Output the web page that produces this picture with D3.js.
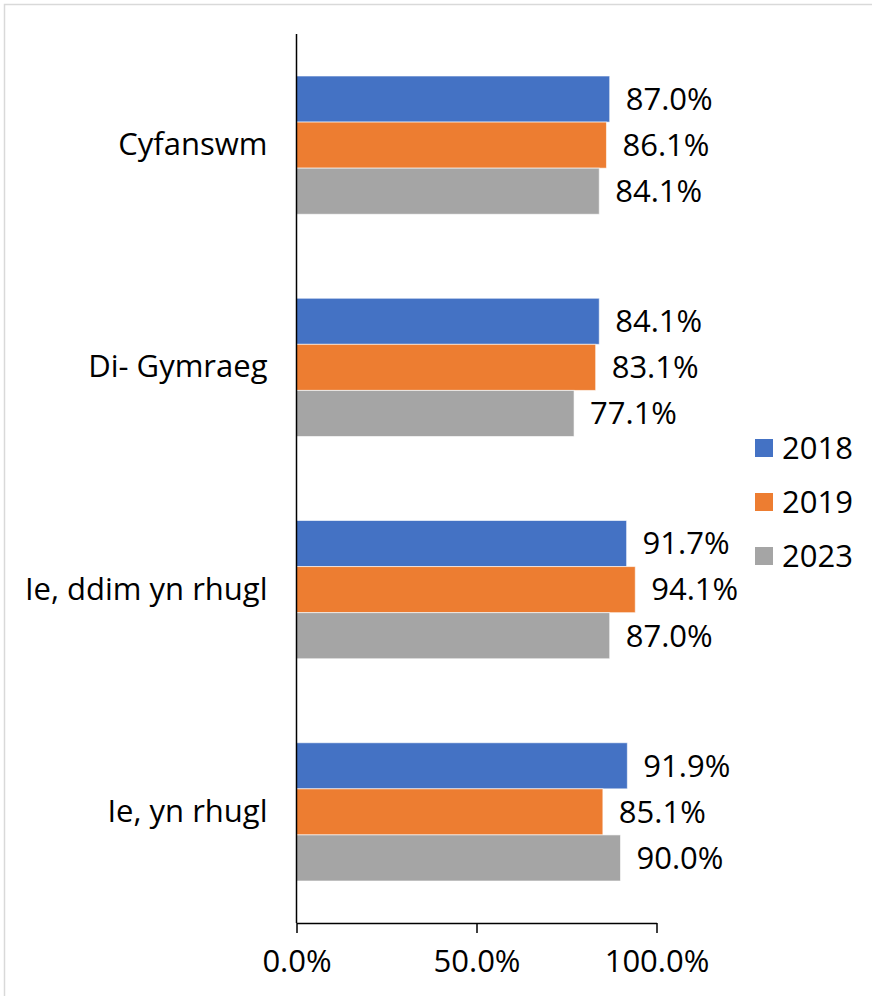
<!DOCTYPE html>
<html><head><meta charset="utf-8">
<script src="https://cdn.jsdelivr.net/npm/d3@7"></script>
<style>body{margin:0;background:#fff}svg{display:block}text{font-family:"Open Sans",Lato,sans-serif;fill:#000}</style>
</head><body><svg id="c" width="872" height="996"></svg>
<script>
const categories = ["Cyfanswm", "Di- Gymraeg", "Ie, ddim yn rhugl", "Ie, yn rhugl"];
const seriesNames = ["2018", "2019", "2023"];
const values2018 = [87.0, 84.1, 91.7, 91.9];
const values2019 = [86.1, 83.1, 94.1, 85.1];
const values2023 = [84.1, 77.1, 87.0, 90.0];
const xTicks = [0, 50, 100];
const colors = ["#4472C4", "#ED7D31", "#A5A5A5"];

const seriesValues = [values2018, values2019, values2023];
const svg = d3.select("#c");
const fs = 31;
const ff = "'Open Sans',Lato,sans-serif";

svg.append("rect").attr("x",4.5).attr("y",4.5).attr("width",900).attr("height",1000)
  .attr("fill","#fff").attr("stroke","#d9d9d9").attr("stroke-width",1.5);

const x = d3.scaleLinear().domain([0,100]).range([296.5,656.5]);
const y0 = d3.scaleBand().domain(categories).range([34,923]).paddingInner(0.378).paddingOuter(0.189);
const y1 = d3.scaleBand().domain(seriesNames).range([0,y0.bandwidth()]);

const g = svg.append("g");
categories.forEach((c,ci)=>{
  const grp = g.append("g").attr("transform",`translate(0,${y0(c)})`);
  seriesNames.forEach((s,si)=>{
    const v = seriesValues[si][ci];
    grp.append("rect").attr("x",x(0)).attr("y",y1(s)).attr("width",x(v)-x(0)).attr("height",y1.bandwidth())
      .attr("fill",colors[si]).attr("stroke","#fff").attr("stroke-opacity",0.6).attr("stroke-width",1);
    grp.append("text").attr("x",x(v)+16).attr("y",y1(s)+y1.bandwidth()/2).attr("dy","0.35em")
      .style("font-size",fs+"px").text(v.toFixed(1)+"%");
  });
});

// y axis
const ya = svg.append("g").attr("transform",`translate(${x(0)},0)`)
  .call(d3.axisLeft(y0).tickSize(0).tickPadding(29));
ya.select(".domain").attr("stroke","#000").attr("stroke-width",1.5).attr("d","M0,34V923");
ya.selectAll("text").style("font-size",fs+"px").style("font-family",ff).attr("fill","#000");

// x axis
const xa = svg.append("g").attr("transform","translate(0,923)")
  .call(d3.axisBottom(x).tickValues(xTicks).tickSize(10).tickSizeOuter(0).tickPadding(17).tickFormat(d=>d.toFixed(1)+"%"));
xa.select(".domain").attr("stroke","#000").attr("stroke-width",1.5);
xa.selectAll("line").attr("stroke","#000").attr("stroke-width",1.5);
xa.selectAll("text").style("font-size",fs+"px").style("font-family",ff).attr("fill","#000");

// legend
const leg = svg.append("g");
seriesNames.forEach((s,i)=>{
  const cy = 448 + i*54;
  leg.append("rect").attr("x",755).attr("y",cy-9).attr("width",18).attr("height",18).attr("fill",colors[i]);
  leg.append("text").attr("x",782).attr("y",cy).attr("dy","0.35em").style("font-size",fs+"px").text(s);
});
</script></body></html>
